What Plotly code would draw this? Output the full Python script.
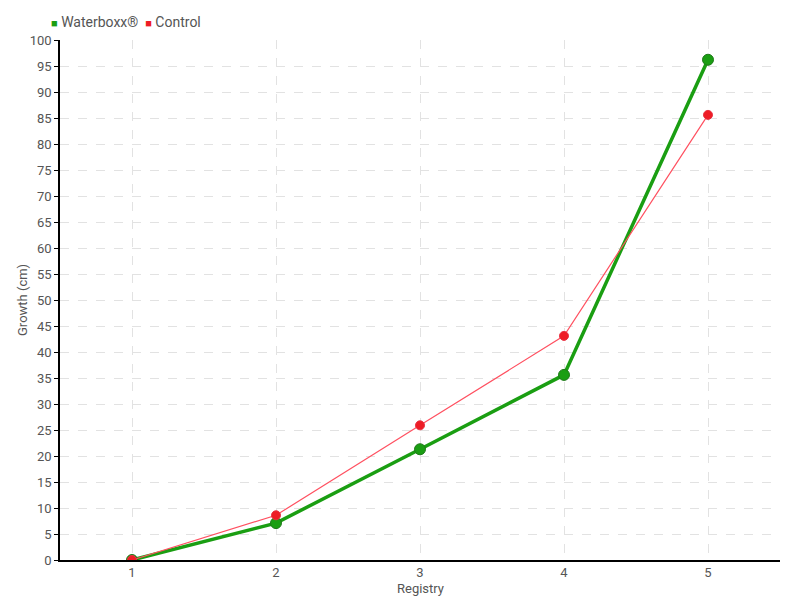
import plotly.graph_objects as go

categories = [1, 2, 3, 4, 5]
waterboxx = [0, 7.1, 21.3, 35.6, 96.2]
control = [0, 8.6, 25.9, 43.1, 85.6]
y_ticks = list(range(0, 101, 5))

FONT = "Roboto, sans-serif"
GREEN = "#1a9e12"
RED = "#ee1c25"
TXT = "#555555"

fig = go.Figure()
fig.add_trace(go.Scatter(
    x=categories, y=waterboxx, name="Waterboxx®", mode="lines+markers",
    line=dict(color=GREEN, width=3.5), showlegend=False,
    marker=dict(color=GREEN, size=11, line=dict(color="#1f7a1a", width=1)),
))
fig.add_trace(go.Scatter(
    x=categories, y=control, name="Control", mode="lines+markers",
    line=dict(color="#ff5060", width=1.2), showlegend=False,
    marker=dict(color=RED, size=9, line=dict(color="#e83040", width=1)),
))

legend_text = (f"<span style='color:{GREEN};font-size:11px'>■</span> Waterboxx®  "
               f"<span style='color:{RED};font-size:11px'>■</span> Control")

fig.update_layout(
    width=800, height=600,
    paper_bgcolor="white", plot_bgcolor="white",
    margin=dict(l=52, r=28, t=32, b=48, autoexpand=False),
    font=dict(family=FONT, size=13, color=TXT),
    showlegend=False,
    xaxis=dict(
        range=[0.5, 5.5], tickvals=categories, ticktext=[str(c) for c in categories],
        showline=True, linecolor="black", linewidth=1.5, automargin=False,
        showgrid=True, gridcolor="#e2e2e2", griddash="dash", gridwidth=1,
        ticks="", zeroline=False, tickfont=dict(size=13),
    ),
    yaxis=dict(
        range=[0, 100], tickvals=y_ticks, automargin=False,
        showline=True, linecolor="black", linewidth=1.5,
        showgrid=True, gridcolor="#e2e2e2", griddash="dash", gridwidth=1,
        ticks="outside", ticklen=4, tickcolor="black", zeroline=False,
        tickfont=dict(size=13),
    ),
    annotations=[
        dict(text=legend_text, xref="paper", yref="paper", x=-0.015, y=1.0,
             yshift=18, xanchor="left", yanchor="middle", showarrow=False,
             font=dict(size=14, color=TXT)),
        dict(text="Registry", xref="paper", yref="paper", x=0.5, y=0, yshift=-28,
             xanchor="center", yanchor="middle", showarrow=False, borderpad=0,
             font=dict(size=13, color=TXT)),
        dict(text="Growth (cm)", xref="paper", yref="paper", x=0, xshift=-38, y=0.5,
             xanchor="center", yanchor="middle", textangle=-90, showarrow=False,
             font=dict(size=13, color=TXT)),
    ],
)

fig.write_html("out.html")
